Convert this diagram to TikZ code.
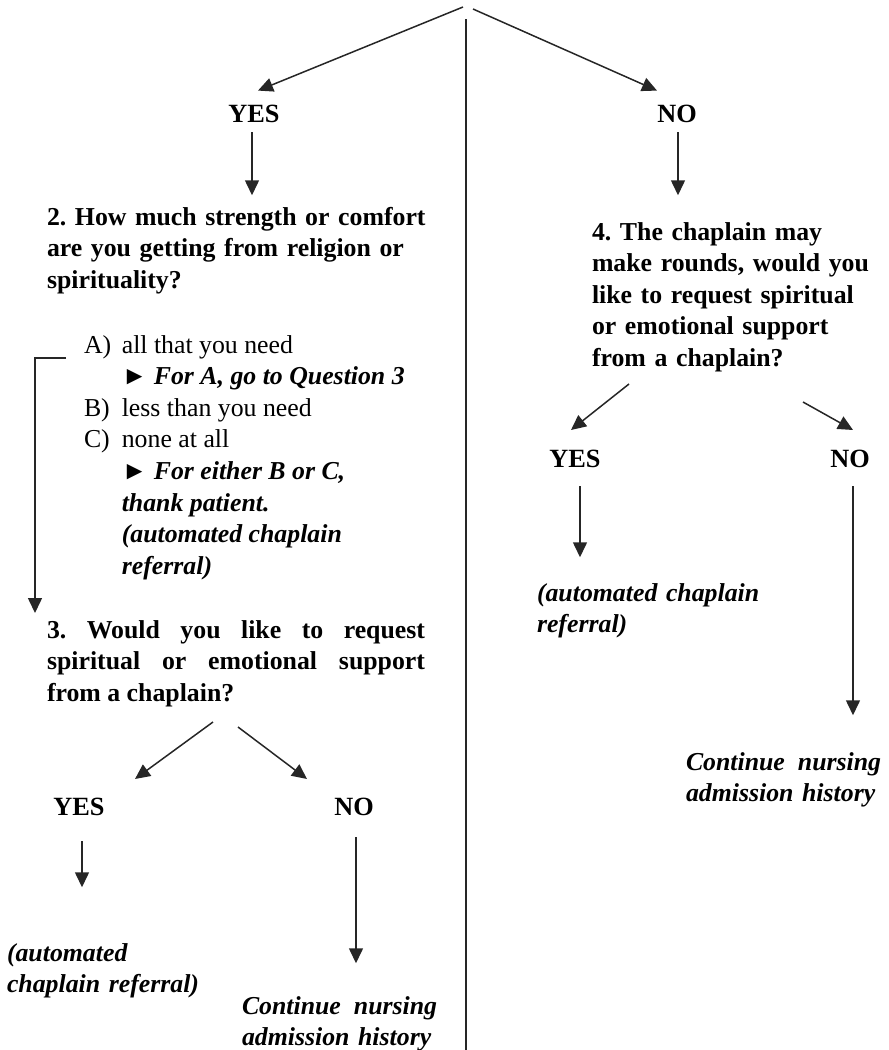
\documentclass[tikz,border=0pt]{standalone}
\usepackage{fontspec}
\setmainfont{Liberation Serif}
\usetikzlibrary{arrows.meta}
\frenchspacing
\hyphenpenalty=10000
\begin{document}
\begin{tikzpicture}[x=1pt,y=-1pt,
  every node/.style={inner sep=0pt, outer sep=0pt},
  bigfont/.style={font=\fontsize{25.8}{31.6}\selectfont},
  txt/.style={bigfont, anchor=base west, text width=#1, align=left},
  lbl/.style={font=\fontsize{26.3}{31.6}\selectfont\bfseries, anchor=base},
  ln/.style={line width=1.5pt, draw={black!85}},
  arr/.style={ln, -{Triangle[length=15pt,width=14pt]}}]
\useasboundingbox (0,0) rectangle (889,1050);

% top
\coordinate (t1) at (463,7);
\coordinate (t2) at (473,9);
\coordinate (vtop) at (466,19);
\coordinate (vbot) at (466,1052);
\node[lbl] (yes1) at (254,122) {YES};
\node[lbl] (no1) at (677,122) {NO};
\draw[arr] (t1) -- ([shift={(4,-14)}]yes1.north);
\draw[arr] (t2) -- ([shift={(-20,-14)}]no1.north);
\draw[ln] (vtop) -- (vbot);
\draw[arr] ([shift={(-2,10)}]yes1.south) -- ([shift={(-2,73)}]yes1.south);
\draw[arr] ([shift={(1,10)}]no1.south) -- ([shift={(1,73)}]no1.south);

% question 2
\node[txt=440pt] (q2) at (47,225) {\bfseries 2. How much strength or comfort\\ are you getting from religion or\\ spirituality?};
\node[bigfont, anchor=base west] (opts) at (84,353) {\begin{tabular}[t]{@{}l@{\hspace{10.6pt}}l@{}}
A) & all that you need\\
   & \textbf{\textit{►\ For A, go to Question 3}}\\
B) & less than you need\\
C) & none at all\\
   & \textbf{\textit{►\ For either B or C,}}\\
   & \textbf{\textit{thank patient.}}\\
   & \textbf{\textit{(automated chaplain}}\\
   & \textbf{\textit{referral)}}
\end{tabular}};

% question 3
\node[txt=378pt, align=justify] (q3) at (47,638) {\bfseries 3. Would you like to request\linebreak spiritual or emotional support\linebreak from a chaplain?};
\draw[arr] ([shift={(-18,5)}]opts.base west) -| ([shift={(-12,-25)}]q3.base west);
\node[lbl] (yes2) at (79,815) {YES};
\node[lbl] (no2) at (354,815) {NO};
\draw[arr] ([shift={(166,84)}]q3.base west) -- ([shift={(56,-18.6)}]yes2.north);
\draw[arr] ([shift={(191,89)}]q3.base west) -- ([shift={(-47,-18.6)}]no2.north);
\draw[arr] ([shift={(3,26)}]yes2.south) -- ([shift={(3,72)}]yes2.south);
\draw[arr] ([shift={(2,22)}]no2.south) -- ([shift={(2,148)}]no2.south);
\node[txt=300pt] (ref2) at (7,961) {\bfseries\itshape (automated\\ chaplain referral)};
\node[txt=300pt] (cont2) at (242,1014) {\bfseries\itshape Continue\hspace{13pt}nursing\\ admission history};

% question 4
\node[txt=295pt] (q4) at (592,240) {\bfseries 4. The chaplain may\\ make rounds, would you\\ like to request spiritual\\ or emotional support\\ from a chaplain?};
\node[lbl] (yes3) at (575,467) {YES};
\node[lbl] (no3) at (850,467) {NO};
\draw[arr] ([shift={(37,144)}]q4.base west) -- ([shift={(-4,-19.6)}]yes3.north);
\draw[arr] ([shift={(211,162)}]q4.base west) -- ([shift={(3,-19.6)}]no3.north);
\draw[arr] ([shift={(5,19)}]yes3.south) -- ([shift={(5,90)}]yes3.south);
\draw[arr] ([shift={(3,19)}]no3.south) -- ([shift={(3,248)}]no3.south);
\node[txt=300pt] (ref3) at (537,601) {\bfseries\itshape (automated chaplain\\ referral)};
\node[txt=200pt] (cont3) at (686,770) {\bfseries\itshape Continue\hspace{13pt}nursing\\ admission history};
\end{tikzpicture}
\end{document}
